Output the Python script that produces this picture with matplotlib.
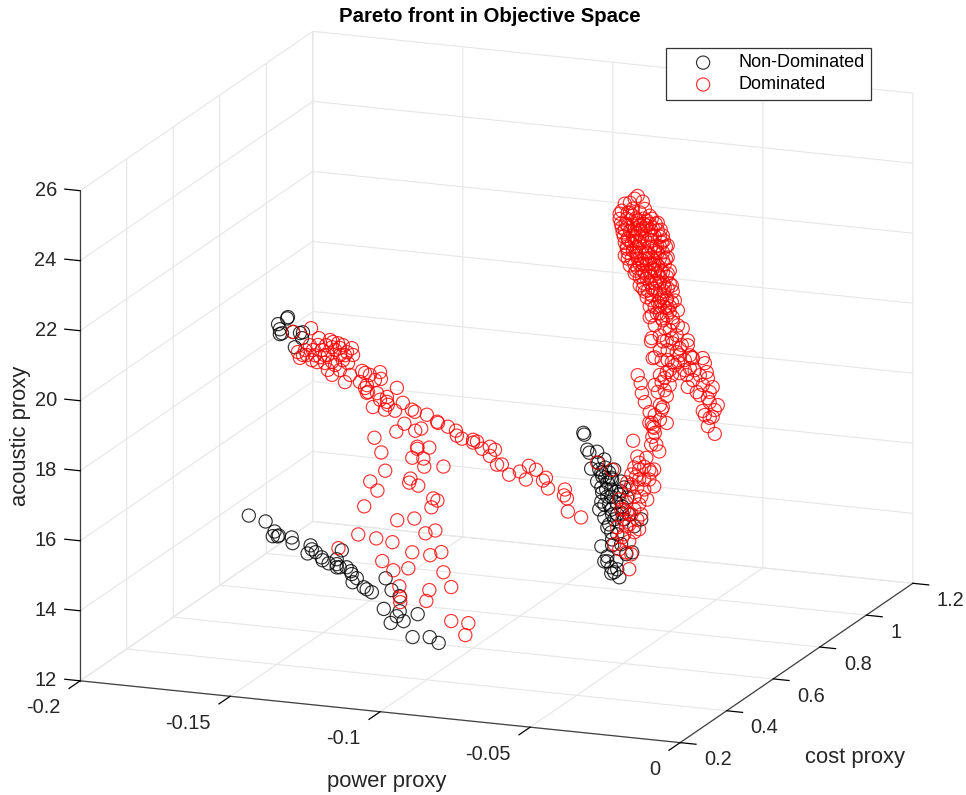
import matplotlib
matplotlib.use('Agg')
import matplotlib.pyplot as plt
from mpl_toolkits.mplot3d import proj3d

# depth (cost) can't be read from a single view, so each arm gets one estimated value
cost_black_low = 0.4
power_black_low = [-.1593,-.1537,-.1507,-.1513,-.1493,-.1497,-.145,-.1447,-.1387,-.1383,-.1397,-.137,-.135,-.1347,-.1327,-.13,-.13,-.13,-.129,-.1267,-.1253,-.125,-.1233,-.1247,-.121,-.12,-.1183,-.1283,-.1137,-.1117,-.109,-.1143,-.109,-.11,-.1077,-.112,-.103,-.1047,-.099,-.096]
acoustic_black_low = [16.17,16.05,15.79,15.65,15.69,15.66,15.67,15.51,15.50,15.39,15.26,15.32,15.19,15.11,15.04,15.18,15.04,14.95,14.96,14.98,14.88,14.80,14.70,14.57,14.46,14.41,14.34,15.45,14.78,14.46,14.31,13.90,13.88,13.73,13.61,13.52,13.85,13.18,13.23,13.09]

cost_black_top = 0.5
power_black_top = [-.1543,-.154,-.1573,-.1567,-.1567,-.156,-.1523,-.15,-.149,-.1517,-.1493]
acoustic_black_top = [21.39,21.43,21.20,21.06,20.92,20.95,21.02,21.01,21.04,20.59,20.87]

cost_black_right = 0.6
power_black_right = [-.0633,-.063,-.062,-.0613,-.0587,-.0607,-.0583,-.0563,-.0573,-.057,-.0547,-.0573,-.0553,-.0537,-.0507,-.0573,-.0553,-.0563,-.0523,-.0563,-.0537,-.0507,-.0487,-.0503,-.054,-.0573,-.0537,-.044,-.047,-.0553,-.0523,-.054,-.0513,-.049,-.052,-.0547,-.0497,-.048,-.0463,-.053,-.057,-.0523,-.053,-.0563,-.0553,-.056,-.054,-.0547,-.0513,-.054,
                     -.058,-.056,-.053,-.0587,-.0557,-.0497,-.054,-.058,-.054,-.0503,-.0553,-.052,-.0537,-.0507,-.054,-.052]
acoustic_black_right = [18.47,18.42,18.00,17.92,17.97,17.47,17.66,17.77,17.39,17.28,17.41,16.96,17.12,17.22,17.19,16.56,16.72,16.48,16.58,16.11,16.22,16.91,16.75,16.48,15.71,15.28,15.34,16.17,15.20,14.87,14.90,14.54,14.45,15.13,16.24,15.93,16.12,16.27,15.95,14.58,16.82,16.89,16.09,14.86,15.01,17.54,17.27,16.50,16.81,16.93,
                        17.47,17.26,17.51,17.12,16.92,17.03,16.73,16.33,16.36,16.28,15.84,15.67,15.51,15.40,14.71,14.67]

cost_red_arm = 0.5
power_red_arm = [-.1463,-.1523,-.1437,-.1507,-.1483,-.1467,-.1477,-.146,-.1433,-.14,-.139,-.1357,-.1327,-.1323,-.1383,-.1407,-.1367,-.134,-.1407,-.1393,-.1367,-.135,-.1333,-.1293,-.1267,-.1233,-.123,-.13,-.1277,-.1273,-.1243,-.1177,-.121,-.1257,-.1217,-.1183,-.1157,-.1127,-.1117,-.1077,-.1427,-.1457,-.149,-.15,-.1443,-.1417,-.1383,-.1357,-.1343,-.1393,-.1373,-.1417,-.121,-.1233,-.1277,-.1283,-.1207,-.1043,-.104,-.1007,-.098,-.0977,-.096,-.0923,-.0923,-.091,-.0893,-.0867,-.085,-.0867,-.0843,-.0827,-.0803,-.0767,-.0737,-.0713,-.0747,-.069,-.068,-.0673,-.0617,-.062,-.061,-.0607,-.0563,
                 -.144,-.1413,-.1367,-.135,-.145,-.1393,-.1283,-.125]
acoustic_red_arm = [21.18,21.02,20.92,20.46,20.54,20.69,20.40,20.27,20.38,20.90,20.85,20.79,20.73,20.54,20.63,20.46,20.50,20.29,20.04,19.91,20.07,19.74,19.96,20.11,20.02,20.13,19.94,19.79,19.72,19.53,19.52,19.73,19.44,19.11,19.07,19.07,19.32,19.15,19.10,19.05,20.59,20.56,20.39,20.30,20.23,20.23,20.20,20.36,20.60,20.70,20.83,20.45,19.30,19.34,19.50,19.63,19.22,18.88,18.85,18.77,18.68,18.54,18.47,18.47,18.39,18.43,18.24,18.32,18.25,18.06,17.83,17.85,17.58,17.70,17.89,17.80,17.49,17.51,17.60,17.30,17.32,17.15,17.07,16.70,16.57,
                    20.72,20.74,20.70,20.51,20.42,20.28,20.06,19.89]

cost_red_mid = 0.45
power_red_mid = [-.1213,-.114,-.1113,-.1077,-.1057,-.107,-.107,-.103,-.119,-.1087,-.105,-.1047,-.0983,-.1177,-.1227,-.1203,-.1093,-.1097,-.1067,-.1017,-.1003,-.1023,-.1247,-.1137,-.108,-.1043,-.101,-.1267,-.1207,-.1153,-.1087,-.1027,-.099,-.1187,-.115,-.11,-.0983,-.113,-.103,-.0957,-.1127,-.1127,-.104,-.0957,-.09,-.091,-.1333]
acoustic_red_mid = [18.50,18.74,18.99,18.82,18.90,18.37,18.31,18.38,18.10,18.04,18.05,17.82,17.88,17.59,17.24,17.00,17.44,17.32,17.26,16.94,16.89,16.68,16.51,16.21,16.31,15.92,16.03,15.69,15.63,15.57,15.34,15.31,15.43,15.00,14.77,14.87,14.86,14.33,14.31,14.46,14.02,13.88,13.99,13.49,13.48,13.13,15.24]

cost_red_right = 0.6
power_red_right = [-.0467,-.0413,-.0397,-.0403,-.039,-.038,-.0453,-.0423,-.0463,-.0447,-.0413,-.0407,-.0397,-.0587,-.0537,-.0457,-.043,-.0487,-.0453,-.042,-.0463,-.049,-.0447,-.0473,-.052,-.049,-.0463,-.0503,-.048,-.053,-.049,-.048,-.0503,-.044,-.043,-.0473,-.0513,-.0447,-.048,-.0497,-.0453,
                   -.043,-.0413,-.0447,-.0473,-.0507,-.048,-.0447,-.0463,-.0497,-.0513,-.0473,-.0397,-.044,-.0487,-.0407]
acoustic_red_right = [18.39,18.95,18.82,18.56,18.35,18.16,17.95,17.94,17.63,17.78,17.61,17.54,17.15,17.66,17.50,17.38,17.31,17.18,17.07,16.75,16.80,16.61,16.59,16.28,15.87,15.92,15.78,15.60,15.51,15.38,15.18,14.71,16.11,16.31,17.68,17.42,16.67,17.30,16.99,16.40,16.15,
                      17.03,17.33,17.58,17.13,16.39,15.99,15.88,16.43,15.69,15.25,15.14,17.63,16.82,16.33,18.33]

cost_red_strands = 0.8
power_red_strands = [-.0607,-.0597,-.0593,-.0583,-.0567,-.056,-.0557,-.055,-.051,-.0523,-.0527,-.051,-.054,-.0527,-.05,-.0517,-.051,-.0527,-.055,-.0507,-.056,-.0563,-.0523,-.0557,-.0467,-.0443,-.044,-.041,-.0423,-.045,-.0427,-.039,-.0383,-.0377,-.04,-.0373,-.0357,-.0367,-.0373,-.034,-.035,-.039,-.0357,-.0367,-.0373,-.035,-.056,-.0533,-.05,-.0523,-.049,-.0457,-.05,-.0477,-.044,-.046,-.049,-.0477,-.051,-.044,-.0423,-.0483,-.045,-.05,
                     -.0533,-.055,-.0493,-.0517,-.0533,-.055,-.0533,-.0493,-.0473,-.0433,-.0417,-.039,-.04,-.0367,-.0383,-.0433,-.0467]
acoustic_red_strands = [19.23,19.01,18.73,18.48,18.21,17.91,17.80,17.63,17.95,18.39,18.31,18.72,18.81,19.10,19.04,19.23,19.40,19.73,19.79,19.75,20.33,20.24,20.27,19.76,19.41,19.38,19.04,18.92,19.25,19.80,19.90,19.91,19.77,19.52,19.41,19.35,19.11,18.96,18.78,18.61,18.46,18.40,18.26,18.22,17.98,17.78,20.98,21.06,21.12,20.87,20.84,20.70,20.61,20.48,20.37,20.22,20.24,20.00,20.31,20.23,19.88,19.62,19.51,19.47,
                        19.30,19.00,19.33,18.88,18.44,18.14,18.02,19.70,19.72,19.58,19.54,19.14,18.84,18.67,18.29,19.95,19.92]

cost_red_blob = 0.8
power_red_blob = [-.066,-.0657,-.064,-.061,-.0577,-.054,-.0523,-.0507,-.0507,-.0643,-.065,-.0633,-.0617,-.06,-.0577,-.0507,-.0493,-.0507,-.054,-.0493,-.0527,-.056,-.06,-.0623,-.059,-.056,-.0543,-.061,-.059,-.0557,-.0523,-.0577,-.0557,-.054,-.0567,-.0543,-.051,-.0627,-.0607,-.0573,-.054,-.0633,-.064,-.0623,-.0593,-.0573,-.055,-.0607,-.0583,-.0567,-.0533,-.0517,-.059,-.056,-.051,-.055,-.0517,-.049,-.0577,-.065,-.0623,-.06,-.0557,-.0527,-.0523,-.066,-.064,-.06,-.0583,-.0607,-.0617,-.065,-.0623,-.0593,-.0567,-.054,-.0523,-.06,-.0667,-.0623,-.0567,-.0583,-.0617,-.055,-.0583,-.0627,-.0567,-.0543,-.0573,-.0533,-.0507,-.0527,-.0473,
                  -.0643,-.0613,-.0587,-.056,-.0663,-.0647,-.0607,-.0587,-.0567,-.0547,-.065,-.0617,-.0597,-.0563,-.053,-.0653,-.0613,-.0593,-.055,-.0533,-.0637,-.0607,-.056,-.052,-.0643,-.061,-.059,-.0563,-.0533,-.0513,-.064,-.0613,-.058,-.054,-.064,-.0607,-.057,-.0533,-.0513,-.0617,-.06,-.0577,-.0553,-.0517,-.0613,-.059,-.055,-.053,-.05,-.0593,-.0563,-.0533,-.051,-.0587,-.055,-.052,-.05,-.0583,-.0547,-.052,-.049,-.056,-.0533,-.051,-.0483,-.0567,-.0533,-.05,-.0633,-.0667,-.0633,-.059,-.055,-.0517,-.0473,-.0533,-.0493,-.0467,-.0507,-.0533]
acoustic_red_blob = [23.40,23.26,23.47,23.64,23.67,23.64,23.29,23.02,22.68,22.81,22.61,22.34,22.13,21.80,21.48,22.22,21.89,21.80,22.19,21.41,21.52,22.63,23.02,23.20,23.43,23.26,22.99,22.64,22.43,22.32,22.58,22.02,21.75,21.37,20.92,21.05,21.02,22.97,23.30,23.04,23.42,23.33,23.10,22.77,22.74,22.73,22.55,22.28,22.18,21.91,21.94,21.81,21.72,21.55,21.51,21.22,21.25,20.98,23.53,22.98,23.49,23.51,23.49,23.09,22.81,23.88,23.84,23.88,24.00,24.35,24.26,24.09,23.97,22.52,22.45,22.42,22.24,22.03,23.64,23.77,23.82,23.15,23.06,22.84,22.58,22.54,22.20,21.99,21.68,21.63,21.23,20.92,21.20,
                     23.67,23.70,23.72,23.74,23.51,23.52,23.56,23.57,23.59,23.61,23.35,23.38,23.39,23.42,23.45,23.15,23.18,23.20,23.24,23.25,23.05,23.07,23.12,23.15,22.87,22.90,22.92,22.94,22.97,22.98,22.70,22.73,22.75,22.79,22.53,22.56,22.59,22.63,22.64,22.38,22.40,22.42,22.44,22.47,22.21,22.23,22.27,22.29,22.31,22.06,22.09,22.11,22.13,21.87,21.90,21.93,21.94,21.64,21.68,21.70,21.72,21.41,21.43,21.45,21.47,21.23,21.26,21.29,23.85,23.79,24.13,24.20,20.71,20.65,20.77,20.43,20.38,20.12,20.03,20.01]

power_ticks = [-0.2, -0.15, -0.1, -0.05, 0]
power_tick_labels = ['-0.2', '-0.15', '-0.1', '-0.05', '0']
cost_ticks = [0.2, 0.4, 0.6, 0.8, 1, 1.2]
cost_tick_labels = ['0.2', '0.4', '0.6', '0.8', '1', '1.2']
acoustic_ticks = [12, 14, 16, 18, 20, 22, 24, 26]
acoustic_tick_labels = ['12', '14', '16', '18', '20', '22', '24', '26']

plt.rcParams['font.family'] = ['Liberation Sans', 'DejaVu Sans']
plt.rcParams['axes.unicode_minus'] = False

fig = plt.figure(figsize=(9.66, 7.95), dpi=100)
w = 800.0
ax = fig.add_axes([85.7 / 966, -2.8 / 795, w / 966, w / 795], projection='3d',
                  proj_type='ortho', computed_zorder=False)
ax.view_init(elev=15.4, azim=-68.8)
ax.set_box_aspect((1, 1, 0.79), zoom=1.265)
ax.patch.set_alpha(0)

black_groups = [(power_black_low, cost_black_low, acoustic_black_low),
                (power_black_top, cost_black_top, acoustic_black_top),
                (power_black_right, cost_black_right, acoustic_black_right)]
red_groups = [(power_red_arm, cost_red_arm, acoustic_red_arm),
              (power_red_mid, cost_red_mid, acoustic_red_mid),
              (power_red_right, cost_red_right, acoustic_red_right),
              (power_red_strands, cost_red_strands, acoustic_red_strands),
              (power_red_blob, cost_red_blob, acoustic_red_blob)]

zo = 5
for px, c, z in black_groups:
    hk = ax.scatter(px, [c] * len(px), z, s=90, facecolors='none', edgecolors='black',
                    linewidths=0.85, alpha=0.8, depthshade=False, zorder=zo)
    zo += 1
for px, c, z in red_groups:
    hr = ax.scatter(px, [c] * len(px), z, s=90, facecolors='none', edgecolors='red',
                    linewidths=0.85, alpha=0.8, depthshade=False, zorder=zo)
    zo += 1

ax.set_xlim(-0.2, 0, view_margin=0)
ax.set_ylim(0.2, 1.2, view_margin=0)
ax.set_zlim(12, 26, view_margin=0)
ax.set_xticks(power_ticks)
ax.set_yticks(cost_ticks)
ax.set_zticks(acoustic_ticks)

# matlab has the z ticks running along x, mplot3d wants y here
ax.zaxis._get_tickdir = lambda pos: 0
ax.zaxis.set_ticks_position('lower')

for axis in (ax.xaxis, ax.yaxis, ax.zaxis):
    axis.set_tick_params(labelbottom=False, labelleft=False)
    axis.set_pane_color((1, 1, 1, 0))
    axis.pane.set_edgecolor('#dcdcdc')
    axis.line.set_color('#404040')
    axis.line.set_linewidth(0.9)
    axis._axinfo['grid']['color'] = '#e6e6e6'
    axis._axinfo['grid']['linewidth'] = 0.8
    axis._axinfo['tick']['color'] = '#404040'
    axis._axinfo['tick']['linewidth'] = {True: 0.9, False: 0.9}
    axis._axinfo['tick']['inward_factor'] = 0
ax.xaxis._axinfo['tick']['outward_factor'] = -0.6
ax.yaxis._axinfo['tick']['outward_factor'] = -0.33
ax.zaxis._axinfo['tick']['outward_factor'] = 0.32


def tick_label(x, y, z, s, ha):
    # project by hand so the label is a plain 2d text at its true place
    X, Y, _ = proj3d.proj_transform(x, y, z, ax.get_proj())
    ax.text2D(X, Y, s, transform=ax.transData, fontsize=14.4, color='#262626',
              ha=ha, va='center')


for t, lab in zip(power_ticks, power_tick_labels):
    tick_label(t, 0.2 - 0.086, 12 - 0.38, lab, 'right')
for t, lab in zip(cost_ticks, cost_tick_labels):
    tick_label(0.008, t, 12 - 0.42, lab, 'left')
for t, lab in zip(acoustic_ticks, acoustic_tick_labels):
    tick_label(-0.2078, 0.2, t - 0.05, lab, 'right')

fig.text(490 / 966, 1 - 16 / 795, 'Pareto front in Objective Space', fontsize=14.7,
         fontweight='bold', ha='center', va='center')
fig.text(387 / 966, 1 - 781 / 795, 'power proxy', fontsize=15.8, color='#262626',
         ha='center', va='center')
fig.text(855 / 966, 1 - 757 / 795, 'cost proxy', fontsize=15.8, color='#262626',
         ha='center', va='center')
fig.text(21 / 966, 1 - 436 / 795, 'acoustic proxy', fontsize=15.8, color='#262626',
         rotation=90, ha='center', va='center')

leg = fig.legend([hk, hr], ['Non-Dominated', 'Dominated'], loc='upper left',
                 bbox_to_anchor=(666 / 966, 1 - 47.5 / 795), borderaxespad=0,
                 fontsize=13, fancybox=False, framealpha=1, edgecolor='#333333',
                 handletextpad=0.27, handlelength=3.35, labelspacing=0.27, borderpad=0.38)
leg.get_frame().set_linewidth(0.9)

fig.savefig('out.png', dpi=100)
